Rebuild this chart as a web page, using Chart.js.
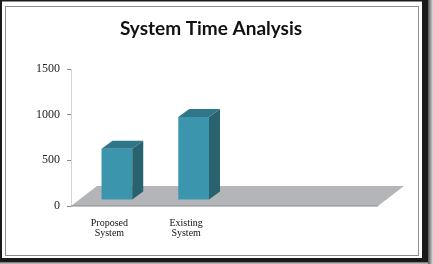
<!DOCTYPE html>
<html>
<head>
<meta charset="utf-8">
<script src="https://cdn.jsdelivr.net/npm/chart.js@4.4.1/dist/chart.umd.min.js"></script>
<style>
  html, body { margin: 0; padding: 0; background: #fff; }
  #c { display: block; }
</style>
</head>
<body>
<canvas id="c" width="433" height="264"></canvas>
<script>
// ---- data ----
const titleText = 'System Time Analysis';
const categories = [['Proposed', 'System'], ['Existing', 'System'], '', ''];
const timeValues = [560, 910, null, null];
const yTickValues = [0, 500, 1000, 1500];
const yTickLabels = ['0', '500', '1000', '1500'];

// ---- styles ----
const FRONT = '#3b95ad';
const SIDE = '#28626f';
const TOP = '#2f7689';
const FLOOR = '#b3b5b8';
const SHIFT_X = 7.5, SHIFT_Y = -6;   // bar position inside the floor depth
const DEPTH_X = 11, DEPTH_Y = -8;    // bar depth
const FLOOR_DX = 26, FLOOR_DY = -20; // floor depth

const framePlugin = {
  id: 'frame',
  beforeDraw(chart) {
    const ctx = chart.ctx;
    ctx.save();
    ctx.fillStyle = '#fff';
    ctx.fillRect(0, 0, chart.width, chart.height);
    ctx.fillStyle = '#1a1a1a';
    ctx.fillRect(0, 0, 433, 1.5);
    ctx.fillRect(0, 0, 2, 264);
    ctx.fillRect(422, 0, 6, 264);
    ctx.fillRect(0, 258, 428, 4);
    const g = ctx.createLinearGradient(428, 0, 433, 0);
    g.addColorStop(0, '#555');
    g.addColorStop(1, '#ddd');
    ctx.fillStyle = g;
    ctx.fillRect(428, 0, 5, 264);
    const g2 = ctx.createLinearGradient(0, 262, 0, 264);
    g2.addColorStop(0, '#666');
    g2.addColorStop(1, '#ccc');
    ctx.fillStyle = g2;
    ctx.fillRect(0, 262, 428, 2);
    ctx.strokeStyle = '#8c8c8c';
    ctx.lineWidth = 1;
    ctx.strokeRect(5.5, 6.5, 413, 249);
    ctx.restore();
  },
  afterDraw(chart) {
    const ctx = chart.ctx;
    ctx.save();
    ctx.fillStyle = '#111';
    ctx.font = 'bold 19px Lato';
    ctx.textAlign = 'center';
    ctx.textBaseline = 'middle';
    ctx.fillText(titleText, 211, 29);
    ctx.restore();
  }
};

const bar3dPlugin = {
  id: 'bar3d',
  beforeDatasetsDraw(chart) {
    const ctx = chart.ctx;
    const x = chart.scales.x, y = chart.scales.y;
    const y0 = y.getPixelForValue(0);
    const l = x.left, r = x.right;
    ctx.save();
    ctx.fillStyle = FLOOR;
    ctx.beginPath();
    ctx.moveTo(l, y0);
    ctx.lineTo(l + FLOOR_DX, y0 + FLOOR_DY);
    ctx.lineTo(r + FLOOR_DX, y0 + FLOOR_DY);
    ctx.lineTo(r, y0);
    ctx.closePath();
    ctx.fill();
    ctx.strokeStyle = '#8a8c8f';
    ctx.lineWidth = 1.2;
    ctx.beginPath();
    ctx.moveTo(l, y0);
    ctx.lineTo(r, y0);
    ctx.stroke();
    ctx.restore();
    ctx.save();
    ctx.translate(SHIFT_X, SHIFT_Y);
  },
  afterDatasetsDraw(chart) {
    const ctx = chart.ctx;
    chart.data.datasets.forEach((ds, di) => {
      const meta = chart.getDatasetMeta(di);
      meta.data.forEach((el, i) => {
        if (ds.data[i] == null) return;
        const p = el.getProps(['x', 'y', 'base', 'width'], true);
        const left = p.x - p.width / 2, right = p.x + p.width / 2;
        const top = p.y, bottom = p.base;
        ctx.fillStyle = SIDE;
        ctx.beginPath();
        ctx.moveTo(right, bottom);
        ctx.lineTo(right + DEPTH_X, bottom + DEPTH_Y);
        ctx.lineTo(right + DEPTH_X, top + DEPTH_Y);
        ctx.lineTo(right, top);
        ctx.closePath();
        ctx.fill();
        ctx.fillStyle = TOP;
        ctx.beginPath();
        ctx.moveTo(left, top);
        ctx.lineTo(left + DEPTH_X, top + DEPTH_Y);
        ctx.lineTo(right + DEPTH_X, top + DEPTH_Y);
        ctx.lineTo(right, top);
        ctx.closePath();
        ctx.fill();
      });
    });
    ctx.restore();
  }
};

new Chart(document.getElementById('c'), {
  type: 'bar',
  data: {
    labels: categories,
    datasets: [{
      data: timeValues,
      backgroundColor: FRONT,
      borderWidth: 0,
      categoryPercentage: 1.0,
      barPercentage: 0.4
    }]
  },
  options: {
    responsive: false,
    animation: false,
    devicePixelRatio: 1,
    layout: { padding: { left: 24, right: 55, top: 69, bottom: 18 } },
    plugins: {
      legend: { display: false },
      tooltip: { enabled: false },
      title: { display: false }
    },
    scales: {
      x: {
        grid: { display: false },
        border: { display: false },
        ticks: {
          color: '#111',
          padding: 4,
          maxRotation: 0,
          autoSkip: false,
          font: { family: 'Liberation Serif', size: 10, lineHeight: 1.0 }
        },
        afterFit(s) { s.height = 40; }
      },
      y: {
        min: 0,
        max: 1500,
        afterBuildTicks(s) { s.ticks = yTickValues.map(v => ({ value: v })); },
        grid: { drawOnChartArea: false, color: '#8a8a8a', tickLength: 4 },
        border: { color: '#d4d4d4', width: 1 },
        ticks: {
          color: '#222',
          padding: 7,
          font: { family: 'Liberation Serif', size: 12 },
          callback: (v) => yTickLabels[yTickValues.indexOf(v)] ?? String(v)
        },
        afterFit(s) { s.width = 47; }
      }
    }
  },
  plugins: [framePlugin, bar3dPlugin]
});
</script>
</body>
</html>
